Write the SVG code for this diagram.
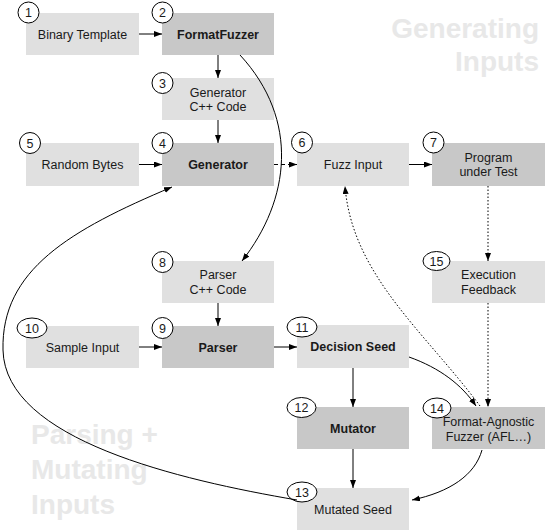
<svg xmlns="http://www.w3.org/2000/svg" width="545" height="532" viewBox="0 0 545 532">
<style>
.lt{fill:#e0e0e0}
.dk{fill:#c8c8c8}
.t{font-family:"Liberation Sans",Arial,sans-serif;font-size:12.5px;fill:#1a1a1a;text-anchor:middle}
.b{font-weight:bold}
.n{fill:#fff;stroke:#000;stroke-width:1}
.big{font-family:"Liberation Sans",Arial,sans-serif;font-size:28px;font-weight:bold;fill:#e8e8e8}
.c{fill:none;stroke:#000;stroke-width:1}
.dash{stroke-dasharray:4 3}
.dot{stroke-dasharray:1.5 2}
</style>
<defs>
<marker id="ah" markerUnits="userSpaceOnUse" markerWidth="9" markerHeight="7" refX="8" refY="3" orient="auto">
<path d="M0,0 L8,3 L0,6 z" fill="#000"/>
</marker>
</defs>
<g id="labels">
<text class="big" x="539" y="38" text-anchor="end">Generating</text>
<text class="big" x="539" y="71" text-anchor="end">Inputs</text>
<text class="big" x="31" y="444">Parsing +</text>
<text class="big" x="31" y="479">Mutating</text>
<text class="big" x="31" y="514">Inputs</text>
</g>
<g id="n1"><rect class="lt" x="26" y="13" width="113" height="42"/><text class="t" x="82.5" y="38.5">Binary Template</text><circle class="n" cx="28.5" cy="12.5" r="10.5"/><text class="t" x="28.5" y="17">1</text></g>
<g id="n2"><rect class="dk" x="162" y="13" width="112" height="42"/><text class="t b" x="218" y="38.5">FormatFuzzer</text><circle class="n" cx="162.5" cy="12.5" r="10.5"/><text class="t" x="162.5" y="17">2</text></g>
<g id="n3"><rect class="lt" x="162" y="78" width="112" height="42"/><text class="t" x="218" y="96.5">Generator</text><text class="t" x="218" y="111">C++ Code</text><circle class="n" cx="162.5" cy="83" r="10.5"/><text class="t" x="162.5" y="87.5">3</text></g>
<g id="n4"><rect class="dk" x="162" y="143" width="112" height="43"/><text class="t b" x="218" y="169">Generator</text><circle class="n" cx="162.5" cy="143" r="10.5"/><text class="t" x="162.5" y="147.5">4</text></g>
<g id="n5"><rect class="lt" x="26" y="143" width="113" height="43"/><text class="t" x="82.5" y="169">Random Bytes</text><circle class="n" cx="30" cy="143" r="10.5"/><text class="t" x="30" y="147.5">5</text></g>
<g id="n6"><rect class="lt" x="297" y="143" width="112" height="43"/><text class="t" x="353" y="169">Fuzz Input</text><circle class="n" cx="302" cy="142.5" r="10.5"/><text class="t" x="302" y="147">6</text></g>
<g id="n7"><rect class="dk" x="432" y="143" width="113" height="43"/><text class="t" x="488.5" y="161.5">Program</text><text class="t" x="488.5" y="176">under Test</text><circle class="n" cx="433.5" cy="142.5" r="10.5"/><text class="t" x="433.5" y="147">7</text></g>
<g id="n8"><rect class="lt" x="162" y="261" width="112" height="42"/><text class="t" x="218" y="279">Parser</text><text class="t" x="218" y="293.5">C++ Code</text><circle class="n" cx="162.5" cy="262" r="10.5"/><text class="t" x="162.5" y="266.5">8</text></g>
<g id="n9"><rect class="dk" x="162" y="326" width="112" height="42"/><text class="t b" x="218" y="351.5">Parser</text><circle class="n" cx="162.5" cy="328" r="10.5"/><text class="t" x="162.5" y="332.5">9</text></g>
<g id="n10"><rect class="lt" x="26" y="326" width="113" height="42"/><text class="t" x="82.5" y="351.5">Sample Input</text><ellipse class="n" cx="32" cy="328" rx="15" ry="10"/><text class="t" x="32" y="332.5">10</text></g>
<g id="n11"><rect class="lt" x="297" y="325" width="112" height="43"/><text class="t b" x="353" y="351">Decision Seed</text><ellipse class="n" cx="302" cy="327" rx="15" ry="10"/><text class="t" x="302" y="331.5">11</text></g>
<g id="n12"><rect class="dk" x="297" y="407" width="112" height="42"/><text class="t b" x="353" y="432.5">Mutator</text><ellipse class="n" cx="301.5" cy="407.5" rx="14.5" ry="10"/><text class="t" x="301.5" y="412">12</text></g>
<g id="n13"><rect class="lt" x="297" y="488" width="112" height="42"/><text class="t" x="353" y="513.5">Mutated Seed</text><ellipse class="n" cx="302" cy="492" rx="15" ry="10"/><text class="t" x="302" y="496.5">13</text></g>
<g id="n14"><rect class="dk" x="432" y="407" width="113" height="42"/><text class="t" x="488.5" y="425.5">Format-Agnostic</text><text class="t" x="488.5" y="440.5">Fuzzer (AFL…)</text><ellipse class="n" cx="437" cy="408" rx="14" ry="10"/><text class="t" x="437" y="412.5">14</text></g>
<g id="n15"><rect class="lt" x="432" y="261" width="113" height="42"/><text class="t" x="488.5" y="279">Execution</text><text class="t" x="488.5" y="293.5">Feedback</text><ellipse class="n" cx="436.5" cy="261" rx="13.5" ry="9.5"/><text class="t" x="436.5" y="265.5">15</text></g>
<g id="connectors">
<line class="c" x1="139" y1="34" x2="162" y2="34" marker-end="url(#ah)"/>
<line class="c" x1="218" y1="55" x2="218" y2="78" marker-end="url(#ah)"/>
<line class="c" x1="218" y1="120" x2="218" y2="143" marker-end="url(#ah)"/>
<line class="c" x1="139" y1="164.5" x2="162" y2="164.5" marker-end="url(#ah)"/>
<line class="c dash" x1="274" y1="164.5" x2="297" y2="164.5" marker-end="url(#ah)"/>
<line class="c" x1="409" y1="164.5" x2="432" y2="164.5" marker-end="url(#ah)"/>
<line class="c dot" x1="488" y1="186" x2="488" y2="261" marker-end="url(#ah)"/>
<line class="c dot" x1="488" y1="303" x2="488" y2="407" marker-end="url(#ah)"/>
<path class="c dot" d="M480,406 C425,332 352,275 345,186" marker-end="url(#ah)"/>
<path class="c" d="M240,55 C300,120 290,200 242,261" marker-end="url(#ah)"/>
<line class="c" x1="218" y1="303" x2="218" y2="326" marker-end="url(#ah)"/>
<line class="c" x1="139" y1="347" x2="162" y2="347" marker-end="url(#ah)"/>
<line class="c" x1="274" y1="347" x2="297" y2="347" marker-end="url(#ah)"/>
<line class="c" x1="353" y1="368" x2="353" y2="407" marker-end="url(#ah)"/>
<line class="c" x1="353" y1="449" x2="353" y2="488" marker-end="url(#ah)"/>
<path class="c" d="M409,357 C440,368 462,385 476,406" marker-end="url(#ah)"/>
<path class="c" d="M482,450 C475,475 450,492 412,500" marker-end="url(#ah)"/>
<path class="c" d="M297,500 C180,480 5,440 3,350 C1,270 70,230 172,187" marker-end="url(#ah)"/>
</g>
</svg>
